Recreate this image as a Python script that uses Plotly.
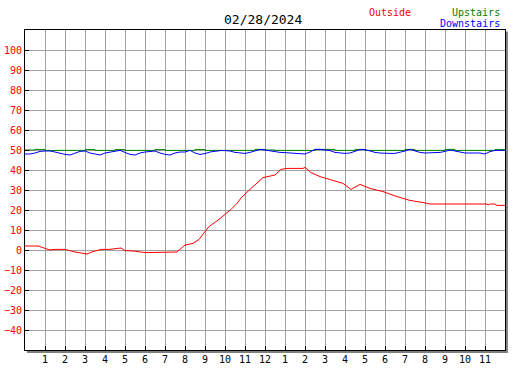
import plotly.graph_objects as go

# ---- data ----
outside_hours = [0.0, 0.67, 1.0, 1.25, 1.5, 2.0, 2.5, 3.1, 3.4, 3.8, 4.2, 4.6, 4.8, 5.0, 5.5, 6.0,
                 6.7, 7.4, 7.6, 8.0, 8.4, 8.7, 9.2, 9.7, 10.3, 10.6, 10.8, 11.25, 11.9, 12.5, 12.8,
                 13.1, 13.9, 14.0, 14.3, 14.75, 15.3, 15.9, 16.3, 16.75, 17.25, 17.9, 18.6, 19.25,
                 19.9, 20.25, 23.1, 23.15, 23.25, 23.5, 23.6, 24.0]
outside_temp = [2.0, 2.0, 0.8, 0.0, 0.3, 0.3, -1.0, -2.0, -0.8, 0.3, 0.3, 1.0, 1.0, -0.3, -0.6, -1.3,
                -1.3, -1.3, -1.0, 2.5, 3.3, 5.3, 11.7, 15.3, 20.3, 23.3, 26.0, 30.3, 36.2, 37.5, 40.3,
                40.8, 40.8, 41.3, 38.7, 36.7, 35.0, 33.3, 30.3, 32.8, 30.8, 29.2, 26.7, 24.8,
                23.7, 23.0, 23.0, 22.5, 23.0, 23.0, 22.3, 22.3]

down_hours = [i * 0.25 for i in range(97)]
downstairs_temp = [48.0, 48.0, 48.5, 49.3, 49.5, 49.5, 49.0, 48.3, 47.8, 47.5, 48.5, 49.3,
                   49.5, 48.5, 48.0, 47.5, 48.5, 49.0, 49.5, 49.8, 48.8, 47.8, 47.5, 48.5,
                   49.0, 49.3, 49.5, 48.5, 47.8, 47.5, 48.5, 49.0, 49.0, 49.8, 48.5, 47.8,
                   48.2, 49.0, 49.5, 49.7, 49.7, 49.5, 48.8, 48.5, 48.3, 48.8, 49.5, 50.3,
                   50.0, 49.5, 49.0, 48.8, 48.7, 48.5, 48.3, 48.0, 48.0, 49.0, 50.3, 50.3,
                   50.0, 49.7, 48.8, 48.5, 48.3, 48.5, 49.5, 50.2, 50.2, 49.5, 48.8, 48.5,
                   48.3, 48.3, 48.3, 48.8, 49.5, 50.3, 49.5, 48.8, 48.5, 48.5, 48.5, 48.8,
                   49.3, 50.0, 49.5, 49.0, 48.5, 48.5, 48.5, 48.5, 48.0, 49.2, 49.8, 49.8, 49.8]

up_hours = [i * 0.5 for i in range(49)]
upstairs_temp = [50.0, 50.3, 49.8, 49.8, 49.8, 49.8, 50.2, 49.8, 49.8, 50.2, 49.8, 49.8,
                 49.8, 50.2, 49.8, 49.8, 49.8, 50.2, 49.8, 49.8, 49.8, 49.8, 49.8, 50.3,
                 50.0, 49.8, 49.8, 49.8, 49.8, 50.3, 50.3, 49.8, 49.8, 50.3, 49.8, 49.8,
                 49.8, 49.8, 50.3, 49.8, 49.8, 49.8, 50.3, 49.8, 49.8, 49.8, 49.8, 50.2, 49.8]

x_tickvals = list(range(1, 24))
x_ticktext = [str(h) for h in range(1, 13)] + [str(h) for h in range(1, 12)]
y_tickvals = list(range(-40, 101, 10))

title_text = "02/28/2024"
series_names = ["Outside", "Upstairs", "Downstairs"]
series_colors = ["#ff0000", "#008000", "#0000ff"]

FONT = "DejaVu Sans Mono"

fig = go.Figure()
fig.add_trace(go.Scatter(x=outside_hours, y=outside_temp, mode="lines",
                         line=dict(color=series_colors[0], width=1), name=series_names[0]))
fig.add_trace(go.Scatter(x=up_hours, y=upstairs_temp, mode="lines",
                         line=dict(color=series_colors[1], width=1, shape="hv"), name=series_names[1]))
fig.add_trace(go.Scatter(x=down_hours, y=downstairs_temp, mode="lines",
                         line=dict(color=series_colors[2], width=1), name=series_names[2]))

fig.update_layout(
    width=527, height=370,
    margin=dict(l=25, r=22, t=30, b=20, autoexpand=False),
    paper_bgcolor="white", plot_bgcolor="white",
    showlegend=False,
    font=dict(family=FONT, size=10, color="black"),
    xaxis=dict(range=[0, 24], tickvals=x_tickvals, ticktext=x_ticktext, automargin=False,
               showgrid=True, gridcolor="#a0a0a0", gridwidth=1,
               ticks="inside", ticklen=4, tickcolor="black",
               showline=True, linecolor="black", linewidth=1, mirror=True,
               zeroline=False, fixedrange=True, tickfont=dict(color="black", size=10, family=FONT)),
    yaxis=dict(range=[-50, 110], tickvals=y_tickvals, automargin=False,
               showgrid=True, gridcolor="#a0a0a0", gridwidth=1,
               ticks="inside", ticklen=4, tickcolor="black",
               showline=True, linecolor="black", linewidth=1, mirror=True,
               zeroline=False, fixedrange=True, tickfont=dict(color="red", size=10, family=FONT)),
)

# shadow along right and bottom of frame
fig.add_shape(type="line", xref="paper", yref="paper", x0=1.004, x1=1.004, y0=-0.006, y1=0.995,
              line=dict(color="#808080", width=2), layer="below")
fig.add_shape(type="line", xref="paper", yref="paper", x0=0.004, x1=1.006, y0=-0.006, y1=-0.006,
              line=dict(color="#808080", width=2), layer="below")

fig.add_annotation(text=title_text, xref="paper", yref="paper", x=0.495, y=1.0, yshift=11,
                   showarrow=False, xanchor="center", yanchor="middle",
                   font=dict(family=FONT, size=13, color="black"))
fig.add_annotation(text=series_names[0], xref="paper", yref="paper", x=0.713, y=1.0, yshift=18,
                   showarrow=False, xanchor="left", yanchor="middle",
                   font=dict(family=FONT, size=10, color=series_colors[0]))
fig.add_annotation(text=series_names[1], xref="paper", yref="paper", x=0.993, y=1.0, yshift=18,
                   showarrow=False, xanchor="right", yanchor="middle",
                   font=dict(family=FONT, size=10, color=series_colors[1]))
fig.add_annotation(text=series_names[2], xref="paper", yref="paper", x=0.993, y=1.0, yshift=7,
                   showarrow=False, xanchor="right", yanchor="middle",
                   font=dict(family=FONT, size=10, color=series_colors[2]))

# remove the default 8px page margin so the figure fills the window exactly
fig.write_html("out.html", config={"displayModeBar": False},
               post_script="document.body.style.margin='0';")
